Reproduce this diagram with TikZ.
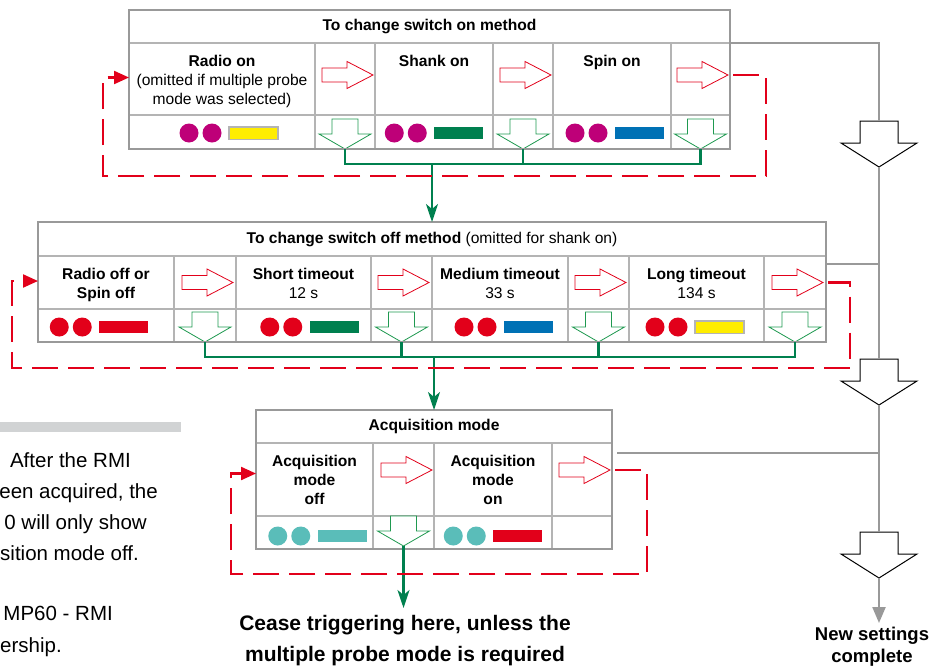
\documentclass[tikz,border=0pt]{standalone}
\usepackage{fontspec}
\setmainfont{Liberation Sans}
\usetikzlibrary{positioning,arrows.meta}

\definecolor{rimgray}{HTML}{999999}
\definecolor{cellgray}{HTML}{B4B4B4}
\definecolor{trunkgray}{HTML}{999999}
\definecolor{loopred}{HTML}{E2001A}
\definecolor{busgreen}{HTML}{00804F}
\definecolor{hollowgreen}{HTML}{1F9950}
\definecolor{ledmag}{HTML}{BE0078}
\definecolor{ledred}{HTML}{E2001A}
\definecolor{ledcyan}{HTML}{5ABDB9}
\definecolor{bargreen}{HTML}{00804F}
\definecolor{barblue}{HTML}{0071B5}
\definecolor{baryellow}{HTML}{FFED00}
\definecolor{notegray}{HTML}{D1D3D4}

\begin{document}
\begin{tikzpicture}[x=1pt,y=-1pt,
  cell/.style args={#1x#2}{draw=cellgray, line width=1.2pt, inner sep=0pt, outer sep=0pt,
    minimum width=#1pt, minimum height=#2pt},
  rim/.style={draw=rimgray, line width=2.2pt},
  hdr/.style={font=\fontsize{15.6}{19.3}\selectfont},
  lbl/.style={font=\fontsize{15.6}{19.3}\selectfont, align=center, inner sep=0pt},
  busline/.style={draw=busgreen, line width=2.2pt},
  backloop/.style={draw=loopred, line width=2.2pt, dash pattern=on 26pt off 10pt,
    -{Triangle[length=15pt,width=13pt]}},
  trunkline/.style={draw=trunkgray, line width=2.2pt},
  notetext/.style={font=\fontsize{20.5}{31}\selectfont, inner sep=0pt},
  yelbar/.style={fill=baryellow, draw=cellgray, line width=1.5pt},
  pics/leds/.style 2 args={code={
    \fill[#1] (-39.75,0) circle (9.5);
    \fill[#1] (-16.75,0) circle (9.5);
    \path[#2] (0.25,-6.25) rectangle (49.25,6.25);}},
  pics/fwdarr/.style={code={
    \path[draw=loopred, fill=white, line width=0.8pt] (0,0) -- (-26,-13.5) -- (-26,-7) -- (-51,-7)
      -- (-51,7) -- (-26,7) -- (-26,13.5) -- cycle;
    \coordinate (-tip) at (0,0);}},
  pics/dnarr/.style={code={
    \path[draw=hollowgreen, fill=white, line width=0.8pt] (0,0) -- (-26,-15) -- (-13,-15) -- (-13,-30)
      -- (13,-30) -- (13,-15) -- (26,-15) -- cycle;
    \coordinate (-tip) at (0,0);}},
  pics/exitarr/.style={code={
    \path[draw=black, fill=white, line width=1pt] (0,0) -- (-38,-24) -- (-19,-24) -- (-19,-46)
      -- (19,-46) -- (19,-24) -- (38,-24) -- cycle;
    \coordinate (-tip) at (0,0);
    \coordinate (-tail) at (0,-46);}},
]
\path[use as bounding box, fill=white] (0,0) rectangle (931,667);

% 左侧说明文字
\fill[notegray] (0,422) rectangle (181,432);
\node[notetext, anchor=base east] (n1) at (131,467) {After the RMI};
\node[notetext, anchor=base east] (n2) at (158,498) {een acquired, the};
\node[notetext, anchor=base east] (n3) at (147,529) {0 will only show};
\node[notetext, anchor=base west] (n4) at (0,560) {sition mode off.};
\node[notetext, anchor=base east] (n5) at (113,620) {MP60 - RMI};
\node[notetext, anchor=base west] (n6) at (0,652) {ership.};

% 第一张表:开启方式
\node[cell=601x33, hdr] (t1h) at (429.5,26.5) {\textbf{To change switch on method}};
\node[cell=186x72, below right=0pt of t1h.south west] (t1a) {};
\node[cell=60x72, right=0pt of t1a] (t1b) {};
\node[cell=118x72, right=0pt of t1b] (t1c) {};
\node[cell=60x72, right=0pt of t1c] (t1d) {};
\node[cell=118x72, right=0pt of t1d] (t1e) {};
\node[cell=59x72, right=0pt of t1e] (t1f) {};
\node[cell=186x34, below=0pt of t1a] (t1a3) {};
\node[cell=60x34, below=0pt of t1b] (t1b3) {};
\node[cell=118x34, below=0pt of t1c] (t1c3) {};
\node[cell=60x34, below=0pt of t1d] (t1d3) {};
\node[cell=118x34, below=0pt of t1e] (t1e3) {};
\node[cell=59x34, below=0pt of t1f] (t1f3) {};
\node[lbl, below=11.5pt of t1a.north] (t1at) {\textbf{Radio on}\\(omitted if multiple probe\\mode was selected)};
\node[lbl, below=11.5pt of t1c.north] (t1ct) {\textbf{Shank on}};
\node[lbl, below=11.5pt of t1e.north] (t1et) {\textbf{Spin on}};
\pic (t1r1) at ([xshift=-2pt, yshift=4pt]t1b.east) {fwdarr};
\pic (t1r2) at ([xshift=-2pt, yshift=4pt]t1d.east) {fwdarr};
\pic (t1r3) at ([xshift=-2pt, yshift=4pt]t1f.east) {fwdarr};
\pic (t1v1) at (t1b3.south) {dnarr};
\pic (t1v2) at (t1d3.south) {dnarr};
\pic (t1v3) at (t1f3.south) {dnarr};
\pic[xshift=6.75pt, yshift=-1pt] at (t1a3) {leds={ledmag}{yelbar}};
\pic[yshift=-1pt] at (t1c3) {leds={ledmag}{fill=bargreen}};
\pic[xshift=2.75pt, yshift=-1pt] at (t1e3) {leds={ledmag}{fill=barblue}};
\draw[rim] (t1h.north west) rectangle (t1f3.south east);

% 第二张表:关闭方式
\node[cell=788x34, hdr] (t2h) at (432,239) {\textbf{To change switch off method} (omitted for shank on)};
\node[cell=136x53, below right=0pt of t2h.south west] (t2a) {};
\node[cell=62x53, right=0pt of t2a] (t2b) {};
\node[cell=135x53, right=0pt of t2b] (t2c) {};
\node[cell=61x53, right=0pt of t2c] (t2d) {};
\node[cell=136x53, right=0pt of t2d] (t2e) {};
\node[cell=61x53, right=0pt of t2e] (t2f) {};
\node[cell=135x53, right=0pt of t2f] (t2g) {};
\node[cell=62x53, right=0pt of t2g] (t2k) {};
\node[cell=136x33, below=0pt of t2a] (t2a3) {};
\node[cell=62x33, below=0pt of t2b] (t2b3) {};
\node[cell=135x33, below=0pt of t2c] (t2c3) {};
\node[cell=61x33, below=0pt of t2d] (t2d3) {};
\node[cell=136x33, below=0pt of t2e] (t2e3) {};
\node[cell=61x33, below=0pt of t2f] (t2f3) {};
\node[cell=135x33, below=0pt of t2g] (t2g3) {};
\node[cell=62x33, below=0pt of t2k] (t2k3) {};
\node[lbl, below=11.5pt of t2a.north] (t2at) {\textbf{Radio off or}\\\textbf{Spin off}};
\node[lbl, below=11.5pt of t2c.north] (t2ct) {\textbf{Short timeout}\\12 s};
\node[lbl, below=11.5pt of t2e.north] (t2et) {\textbf{Medium timeout}\\33 s};
\node[lbl, below=11.5pt of t2g.north] (t2gt) {\textbf{Long timeout}\\134 s};
\pic (t2r1) at ([xshift=-3pt]t2b.east) {fwdarr};
\pic (t2r2) at ([xshift=-3pt]t2d.east) {fwdarr};
\pic (t2r3) at ([xshift=-3pt]t2f.east) {fwdarr};
\pic (t2r4) at ([xshift=-3pt]t2k.east) {fwdarr};
\pic (t2v1) at (t2b3.south) {dnarr};
\pic (t2v2) at (t2d3.south) {dnarr};
\pic (t2v3) at (t2f3.south) {dnarr};
\pic (t2v4) at (t2k3.south) {dnarr};
\pic[xshift=-7pt, yshift=-1.5pt] at (t2a3) {leds={ledred}{fill=ledred}};
\pic[xshift=6pt, yshift=-1.5pt] at (t2c3) {leds={ledred}{fill=bargreen}};
\pic[xshift=3.75pt, yshift=-1.5pt] at (t2e3) {leds={ledred}{fill=barblue}};
\pic[xshift=-1.75pt, yshift=-1.5pt] at (t2g3) {leds={ledred}{yelbar}};
\draw[rim] (t2h.north west) rectangle (t2k3.south east);

% 第三张表:采集模式
\node[cell=356x33, hdr] (t3h) at (434,426.5) {\textbf{Acquisition mode}};
\node[cell=117x73, below right=0pt of t3h.south west] (t3a) {};
\node[cell=61x73, right=0pt of t3a] (t3b) {};
\node[cell=118x73, right=0pt of t3b] (t3c) {};
\node[cell=60x73, right=0pt of t3c] (t3d) {};
\node[cell=117x33, below=0pt of t3a] (t3a3) {};
\node[cell=61x33, below=0pt of t3b] (t3b3) {};
\node[cell=118x33, below=0pt of t3c] (t3c3) {};
\node[cell=60x33, below=0pt of t3d] (t3d3) {};
\node[lbl, font=\fontsize{15.6}{19.3}\selectfont\bfseries, below=11.5pt of t3a.north] (t3at) {Acquisition\\mode\\off};
\node[lbl, font=\fontsize{15.6}{19.3}\selectfont\bfseries, below=11.5pt of t3c.north] (t3ct) {Acquisition\\mode\\on};
\pic (t3r1) at ([xshift=-2pt, yshift=9.5pt]t3b.east) {fwdarr};
\pic (t3r2) at ([xshift=-2pt, yshift=9.5pt]t3d.east) {fwdarr};
\pic (t3v1) at ([yshift=3pt]t3b3.south) {dnarr};
\pic[xshift=3pt, yshift=-3.5pt] at (t3a3) {leds={ledcyan}{fill=ledcyan}};
\pic[yshift=-3.5pt] at (t3c3) {leds={ledcyan}{fill=ledred}};
\draw[rim] (t3h.north west) rectangle (t3d3.south east);

% 结束文字
\node[font=\fontsize{21}{31}\selectfont\bfseries, align=center, inner sep=0pt, anchor=north] (cease) at (405,615)
  {Cease triggering here, unless the\\multiple probe mode is required};
\node[font=\fontsize{18.5}{22}\selectfont\bfseries, align=center, inner sep=0pt, anchor=north] (done) at (872,627)
  {New settings\\complete};

% 右侧灰色主线
\pic (x1) at (879,167) {exitarr};
\pic (x2) at (879,405) {exitarr};
\pic (x3) at (879,578) {exitarr};
\coordinate (t2o) at (826,264);
\coordinate (t3o) at (617,453);
\draw[trunkline] (t1h.south east) -| (x1-tail);
\draw[trunkline] (x1-tip) -- (x2-tail);
\draw[trunkline] (t2o) -- (t2o -| x2-tail);
\draw[trunkline] (x2-tip) -- (x3-tail);
\draw[trunkline] (t3o) -- (t3o -| x3-tail);
\draw[trunkline, -{Triangle[length=16pt,width=13pt]}, shorten >=4pt] (x3-tip) -- (x3-tip |- done.north);

% 绿色汇总线
\coordinate (t1j) at (432,164);
\coordinate (t2j) at (434,357);
\draw[busline] (t1v1-tip) |- (t1j) -| (t1v3-tip);
\draw[busline] (t1v2-tip) -- (t1v2-tip |- t1j);
\draw[busline, -{Stealth[length=18pt,width=12pt,inset=5pt]}] (t1j) -- (t2h.north);
\draw[busline] (t2v1-tip) |- (t2j) -| (t2v4-tip);
\draw[busline] (t2v2-tip) -- (t2v2-tip |- t2j);
\draw[busline] (t2v3-tip) -- (t2v3-tip |- t2j);
\draw[busline, -{Stealth[length=18pt,width=12pt,inset=5pt]}] (t2j) -- (t3h.north);
\draw[busline, -{Stealth[length=18pt,width=12pt,inset=5pt]}, shorten >=7pt] (t3v1-tip) -- (t3v1-tip |- cease.north);

% 红色虚线回路
\coordinate (t1l1) at (766,176);
\coordinate (t1l2) at (103,176);
\coordinate (t2l1) at (850,368);
\coordinate (t2l2) at (12,368);
\coordinate (t3l1) at (647,574);
\coordinate (t3l2) at (231,574);
\draw[backloop] ([xshift=5pt]t1r3-tip) -| (t1l1) -- (t1l2) |- ([yshift=1.5pt]t1a.west);
\draw[backloop] ([xshift=5pt]t2r4-tip) -| (t2l1) -- (t2l2) |- ([yshift=1.5pt]t2a.west);
\draw[backloop] ([xshift=5pt]t3r2-tip) -| (t3l1) -- (t3l2) |- ([yshift=6pt]t3a.west);
\end{tikzpicture}
\end{document}
